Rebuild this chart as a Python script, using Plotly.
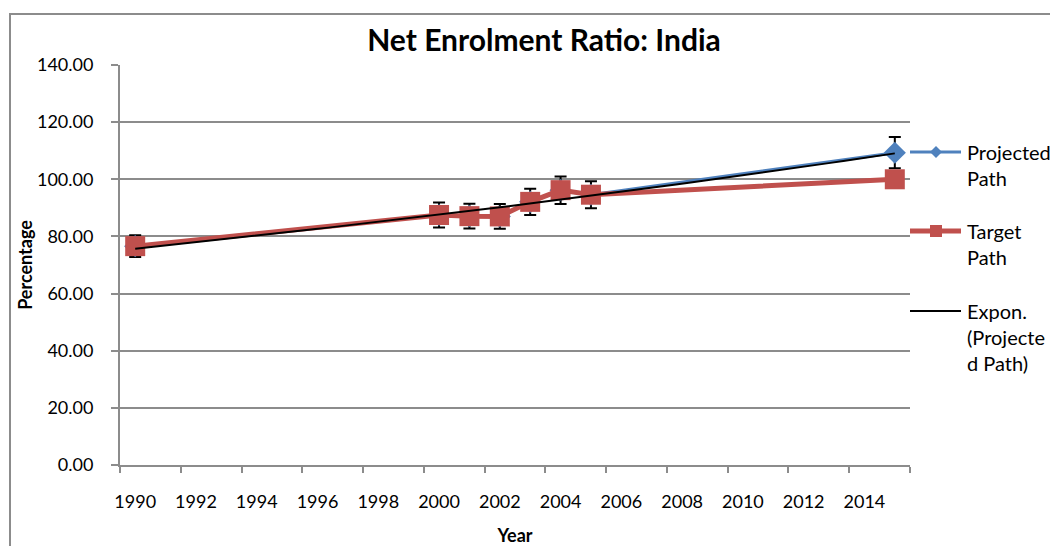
import numpy as np
import plotly.graph_objects as go

# ---- data ----
years = [1990, 2000, 2001, 2002, 2003, 2004, 2005, 2015]
projected = [76.6, 87.5, 87.1, 87.0, 92.1, 96.2, 94.6, 109.3]
target = [76.6, 87.5, 87.1, 87.0, 92.1, 96.2, 94.6, 100.0]
error_pct = 5
year_ticks = list(range(1990, 2015, 2))
y_ticks = [0, 20, 40, 60, 80, 100, 120, 140]
series_names = ["Projected Path", "Target Path", "Expon. (Projected Path)"]
legend_lines = [["Projected", "Path"], ["Target", "Path"], ["Expon.", "(Projecte", "d Path)"]]

# exponential trendline of projected path (least squares on ln y)
b, ln_a = np.polyfit(np.array(years, float), np.log(projected), 1)
trend_x = np.linspace(min(years), max(years), 60)
trend_y = np.exp(ln_a + b * trend_x)

FONT = "Lato"
BLUE = "#4F81BD"
RED = "#C0504D"
GRID = "#8c8c8c"

fig = go.Figure()
fig.add_trace(go.Scatter(
    x=years, y=projected, mode="lines+markers", name=series_names[0],
    line=dict(color=BLUE, width=3),
    marker=dict(symbol="diamond", size=17, color=BLUE),
    error_y=dict(type="percent", value=error_pct, color="black", thickness=2, width=6),
))
fig.add_trace(go.Scatter(
    x=years, y=target, mode="lines+markers", name=series_names[1],
    line=dict(color=RED, width=5),
    marker=dict(symbol="square", size=20, color=RED),
))
fig.add_trace(go.Scatter(
    x=trend_x, y=trend_y, mode="lines", name=series_names[2],
    line=dict(color="black", width=2),
))

W, H = 1050, 546
PL, PR, PT, PB = 120, 910, 65, 465   # plot area in pixels
pw, ph = PR - PL, PB - PT

def px_x(p):
    return (p - PL) / pw

def px_y(p):
    return (PB - p) / ph

# ---- manual legend (Excel style: symbol aligned with first text line) ----
shapes = [dict(type="rect", xref="paper", yref="paper",
               x0=px_x(10), x1=px_x(1070), y0=px_y(570), y1=px_y(14),
               line=dict(color=GRID, width=2), fillcolor="rgba(0,0,0,0)", layer="below")]
annotations = []
leg_y = [152, 231, 311]
leg_styles = [(BLUE, 3, "diamond"), (RED, 5, "square"), ("black", 2, None)]
LINE_H = 26
for (color, lw, sym), y0, lines in zip(leg_styles, leg_y, legend_lines):
    shapes.append(dict(type="line", xref="paper", yref="paper",
                       x0=px_x(910), x1=px_x(961), y0=px_y(y0), y1=px_y(y0),
                       line=dict(color=color, width=lw), layer="above"))
    cx, cy = px_x(936), px_y(y0)
    if sym == "square":
        dx, dy = 6 / pw, 6 / ph
        shapes.append(dict(type="rect", xref="paper", yref="paper",
                           x0=cx - dx, x1=cx + dx, y0=cy - dy, y1=cy + dy,
                           line=dict(width=0), fillcolor=color, layer="above"))
    elif sym == "diamond":
        dx, dy = 6 / pw, 6 / ph
        path = f"M {cx - dx},{cy} L {cx},{cy + dy} L {cx + dx},{cy} L {cx},{cy - dy} Z"
        shapes.append(dict(type="path", xref="paper", yref="paper", path=path,
                           line=dict(width=0), fillcolor=color, layer="above"))
    for i, t in enumerate(lines):
        annotations.append(dict(text=t, xref="paper", yref="paper",
                                x=px_x(965), y=px_y(y0 + i * LINE_H),
                                xanchor="left", yanchor="middle", showarrow=False,
                                font=dict(family=FONT, size=20, color="black")))

fig.update_layout(
    width=W, height=H,
    margin=dict(l=PL, r=W - PR, t=PT, b=H - PB),
    paper_bgcolor="white", plot_bgcolor="white",
    font=dict(family=FONT, size=18, color="black"),
    title=dict(text="<b>Net Enrolment Ratio: India</b>", x=544 / W, xref="container",
               xanchor="center", y=1 - 40 / H, yref="container", yanchor="middle",
               font=dict(family=FONT, size=30, color="black")),
    showlegend=False,
    xaxis=dict(
        range=[1989.5, 2015.5], tickmode="array", tickvals=year_ticks,
        ticktext=[str(v) for v in year_ticks], ticks="", showgrid=False,
        showline=True, linecolor=GRID, linewidth=2, zeroline=False,
        ticklabelstandoff=19, automargin=False,
        minor=dict(tickmode="array",
                   tickvals=[v - 0.5 for v in year_ticks] + [2015.5],
                   ticks="outside", ticklen=6, tickcolor=GRID, tickwidth=2, showgrid=False),
        title=dict(text="<b>Year</b>", font=dict(family=FONT, size=18), standoff=22),
    ),
    yaxis=dict(
        range=[0, 140], tickmode="array", tickvals=y_ticks, tickformat=".2f",
        ticks="outside", ticklen=7, tickcolor=GRID, tickwidth=2,
        showgrid=True, gridcolor=GRID, gridwidth=1.5,
        showline=True, linecolor=GRID, linewidth=2, zeroline=False,
        ticklabelstandoff=14, automargin=False,
        title=dict(text="<b>Percentage</b>", font=dict(family=FONT, size=18), standoff=0),
    ),
    shapes=shapes,
    annotations=annotations,
)

fig.write_html(
    "out.html",
    config={"displayModeBar": False},
    post_script="document.body.style.margin='0';document.body.style.overflow='hidden';",
)
